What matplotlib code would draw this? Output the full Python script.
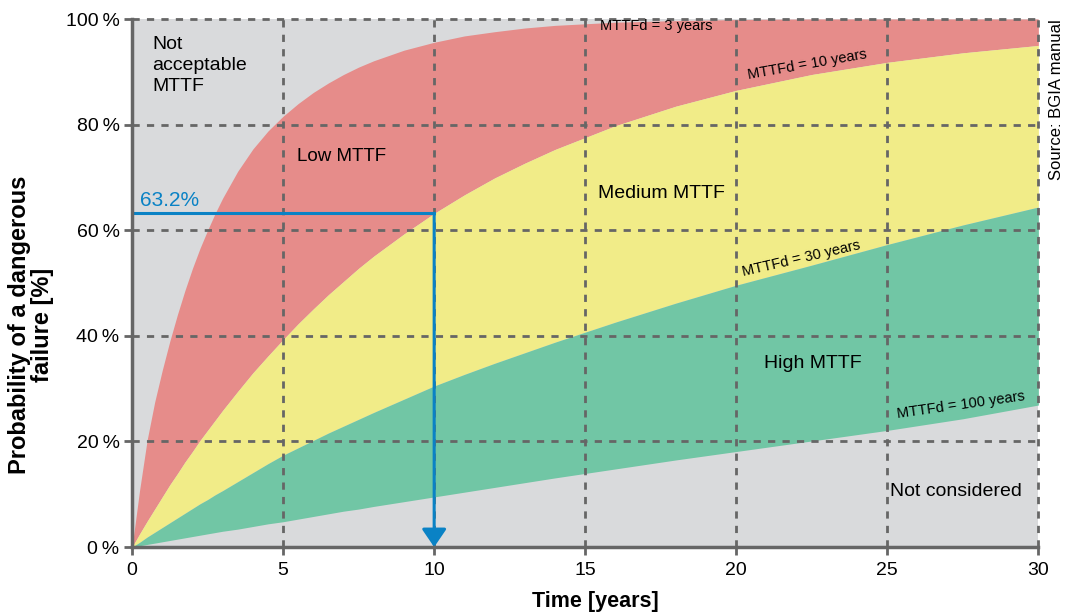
import numpy as np
from matplotlib import pyplot as plt

plt.rcParams['font.family'] = ['Liberation Sans', 'DejaVu Sans']

# time in years and failure probability in %
t = [0, 0.25, 0.5, 0.75, 1, 1.25, 1.5, 1.75, 2, 2.25, 2.5, 2.75, 3,
     3.5, 4, 4.5, 5, 5.5, 6, 6.5, 7, 7.5, 8,
     9, 10, 11, 12, 13, 14, 16, 18, 20, 22.5, 25, 27.5, 30]
p_mttf3 = [0, 10.8, 20.3, 27.5, 33.5, 39.0, 44.0, 48.6, 52.8, 56.6, 60.0, 63.2, 66.1,
           71.2, 75.4, 78.8, 81.6, 84.0, 86.1, 87.9, 89.5, 90.9, 92.1,
           94.1, 95.6, 96.8, 97.6, 98.3, 98.8, 99.4, 99.7, 99.9, 100, 100, 100, 100]
p_mttf10 = [0, 2.5, 4.9, 7.2, 9.5, 11.8, 13.9, 16.1, 18.1, 20.2, 22.1, 24.0, 25.9,
            29.5, 33.0, 36.2, 39.3, 42.3, 45.1, 47.8, 50.3, 52.8, 55.1,
            59.3, 63.2, 66.7, 69.9, 72.7, 75.3, 79.8, 83.5, 86.5, 89.5, 91.8, 93.6, 95.0]
p_mttf30 = [0, 0.9, 1.9, 2.8, 3.7, 4.6, 5.5, 6.4, 7.3, 8.2, 9.0, 9.9, 10.7,
            12.4, 14.1, 15.8, 17.4, 18.8, 20.2, 21.6, 22.9, 24.2, 25.5,
            28.0, 30.5, 32.7, 34.8, 36.8, 38.8, 42.6, 46.2, 49.6, 53.4, 57.3, 61.0, 64.4]
p_mttf100 = [0, 0.25, 0.5, 0.75, 1.0, 1.25, 1.5, 1.75, 2.0, 2.25, 2.5, 2.75, 3.0,
             3.4, 3.9, 4.4, 4.8, 5.3, 5.8, 6.3, 6.8, 7.2, 7.7,
             8.6, 9.5, 10.4, 11.3, 12.2, 13.1, 14.8, 16.5, 18.1, 20.1, 22.1, 24.3, 26.9]

x_ticks = [0, 5, 10, 15, 20, 25, 30]
y_ticks = [0, 20, 40, 60, 80, 100]
marked_t = 10
marked_p = 63.2

gris = '#d9dadc'
rouge = '#e68c8a'
jaune = '#f1ec88'
vert = '#71c6a5'
bleu = '#0a82c5'
grille = '#666666'

fig = plt.figure(figsize=(10.65, 6.14), dpi=100)
ax = fig.add_axes([0.124, 0.109, 0.851, 0.860])
ax.set_facecolor(gris)

ax.fill_between(t, p_mttf10, p_mttf3, color=rouge, lw=0, zorder=1)
ax.fill_between(t, p_mttf30, p_mttf10, color=jaune, lw=0, zorder=1)
ax.fill_between(t, p_mttf100, p_mttf30, color=vert, lw=0, zorder=1)

# grille en pointillés par dessus les zones
tirets = (0, (2.6, 2.6))
for x in x_ticks[1:]:
    ax.plot([x, x], [0, 100], color=grille, lw=2, ls=tirets, zorder=3, clip_on=False)
for y in y_ticks[1:]:
    ax.plot([0, 30], [y, y], color=grille, lw=2, ls=tirets, zorder=3, clip_on=False)

# lecture 63.2 % à 10 ans
ax.plot([0, marked_t], [marked_p, marked_p], color=bleu, lw=2.2, zorder=4)
ax.annotate('', xy=(marked_t, 0), xytext=(marked_t, marked_p),
            arrowprops=dict(arrowstyle='-|>,head_width=0.75,head_length=1.1',
                            color=bleu, lw=2.2, shrinkA=0, shrinkB=0), zorder=4)
ax.text(0.25, 65.7, '63.2%', color=bleu, fontsize=15, ha='left', va='center')

ax.set_xlim(0, 30)
ax.set_ylim(0, 100)
ax.set_xticks(x_ticks)
ax.set_yticks(y_ticks)
ax.set_yticklabels([str(v) + '\u2009%' for v in y_ticks])
ax.tick_params(axis='both', colors=grille, labelcolor='black', labelsize=14, length=6, width=2)
ax.tick_params(axis='x', pad=5)
ax.tick_params(axis='y', pad=3)

for s in ['top', 'right']:
    ax.spines[s].set_visible(False)
for s in ['left', 'bottom']:
    ax.spines[s].set_color(grille)
    ax.spines[s].set_linewidth(2.5)
    ax.spines[s].set_zorder(5)

ax.set_xlabel('Time [years]', fontsize=15.5, fontweight='bold')
ax.xaxis.set_label_coords(0.511, -0.083)
ax.set_ylabel('Probability of a dangerous\nfailure [%]', fontsize=17, fontweight='bold',
              linespacing=1.0)
ax.yaxis.set_label_coords(-0.086, 0.42)

# textes des zones
ax.text(0.66, 96.8, 'Not\nacceptable\nMTTF', fontsize=14, va='top', ha='left', linespacing=1.3)
ax.text(5.46, 73.9, 'Low MTTF', fontsize=13.5, va='center', ha='left')
ax.text(15.43, 67.0, 'Medium MTTF', fontsize=14, va='center', ha='left')
ax.text(20.93, 34.7, 'High MTTF', fontsize=14, va='center', ha='left')
ax.text(25.1, 10.6, 'Not considered', fontsize=14, va='center', ha='left')

# étiquettes des courbes
ax.text(15.5, 98.6, 'MTTFd = 3 years', fontsize=10.5, va='center', ha='left', zorder=6)
ax.text(22.35, 91.3, 'MTTFd = 10 years', fontsize=10.5, va='center', ha='center',
        rotation=10, rotation_mode='anchor', zorder=6)
ax.text(22.15, 54.7, 'MTTFd = 30 years', fontsize=10.5, va='center', ha='center',
        rotation=13, rotation_mode='anchor', zorder=6)
ax.text(27.45, 26.9, 'MTTFd = 100 years', fontsize=10.5, va='center', ha='center',
        rotation=8, rotation_mode='anchor', zorder=6)

fig.text(0.992, 0.837, 'Source: BGIA manual', fontsize=12, rotation=90, ha='center', va='center')

fig.savefig('out.png', dpi=100)
